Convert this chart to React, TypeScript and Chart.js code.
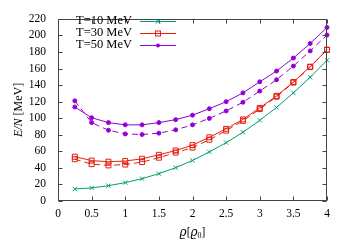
import React, { useEffect, useRef } from "react";
import { Chart, registerables } from "chart.js";

Chart.register(...registerables);

// ---- data ----
const densities = [0.25, 0.5, 0.75, 1.0, 1.25, 1.5, 1.75, 2.0, 2.25, 2.5, 2.75, 3.0, 3.25, 3.5, 3.75, 4.0];
const t10 = [14.5, 15.8, 18.5, 22.2, 27, 33, 40.3, 49, 59.3, 70.5, 83, 97.5, 113, 130.6, 149.5, 170];
const t30Solid = [53.5, 48.8, 47.5, 48.3, 51, 55.8, 61, 67.5, 77, 87.2, 98.6, 112.5, 127, 143.8, 162.3, 182.8];
const t30Dashed = [50.5, 44.5, 43, 44, 47, 52.3, 58.5, 64.5, 74, 85, 96.8, 111, 126, 143, 161.8, 182.5];
const t50Solid = [113.5, 100.6, 94.7, 92, 92, 94.7, 98.3, 103.7, 111.5, 120, 130.6, 144, 157, 172.7, 190.3, 209.7];
const t50Dashed = [121, 94.7, 85.5, 81, 80.3, 82, 86, 92, 99.8, 108.8, 119.3, 132.8, 146.5, 163, 181.3, 200.5];
const legendLabels = ["T=10 MeV", "T=30 MeV", "T=50 MeV"];
const xRange = [0, 4];
const yRange = [0, 220];
const xStep = 0.5;
const yStep = 20;

const GREEN = "#009e73";
const RED = "#e51e10";
const PURPLE = "#9400d3";
const SERIF = "'Liberation Serif', 'DejaVu Serif', serif";

const pts = (ys: number[]) => densities.map((x, i) => ({ x, y: ys[i] }));

function drawMarker(ctx: CanvasRenderingContext2D, style: string, x: number, y: number, color: string) {
  ctx.save();
  ctx.strokeStyle = color;
  ctx.fillStyle = color;
  ctx.lineWidth = 1;
  if (style === "crossRot") {
    const r = 2.2;
    ctx.beginPath();
    ctx.moveTo(x - r, y - r); ctx.lineTo(x + r, y + r);
    ctx.moveTo(x - r, y + r); ctx.lineTo(x + r, y - r);
    ctx.stroke();
  } else if (style === "rect") {
    ctx.strokeRect(x - 2.5, y - 2.5, 5, 5);
  } else {
    ctx.beginPath();
    ctx.arc(x, y, 2, 0, Math.PI * 2);
    ctx.fill();
  }
  ctx.restore();
}

const framePlugin = {
  id: "gnuFrame",
  afterDraw(chart: any) {
    const { ctx, chartArea } = chart;
    const { left, right, top, bottom } = chartArea;
    const xs = chart.scales.x;
    const ys = chart.scales.y;
    ctx.save();
    ctx.strokeStyle = "#444";
    ctx.lineWidth = 1;
    const L = Math.round(left) + 0.5, R = Math.round(right) - 0.5;
    const T = Math.round(top) + 0.5, B = Math.round(bottom) - 0.5;
    ctx.strokeRect(L, T, R - L, B - T);
    ctx.beginPath();
    const tl = 4;
    xs.ticks.forEach((t: any) => {
      const px = Math.round(xs.getPixelForValue(t.value)) + 0.5;
      ctx.moveTo(px, B); ctx.lineTo(px, B - tl);
      ctx.moveTo(px, T); ctx.lineTo(px, T + tl);
    });
    ys.ticks.forEach((t: any) => {
      const py = Math.round(ys.getPixelForValue(t.value)) + 0.5;
      ctx.moveTo(L, py); ctx.lineTo(L + tl, py);
      ctx.moveTo(R, py); ctx.lineTo(R - tl, py);
    });
    ctx.stroke();

    // axis titles
    ctx.fillStyle = "#000";
    ctx.textBaseline = "middle";
    const cx = (left + right) / 2;
    const ty = 233;
    const parts: [string, string][] = [
      ["ϱ", "italic 12px 'DejaVu Serif', serif"],
      ["[", `11.5px ${SERIF}`],
      ["ϱ", "italic 12px 'DejaVu Serif', serif"],
      ["0", `8px ${SERIF}`],
      ["]", `11.5px ${SERIF}`],
    ];
    let total = 0;
    parts.forEach(([s, f]) => { ctx.font = f; total += ctx.measureText(s).width; });
    let x0 = cx - total / 2;
    ctx.textAlign = "left";
    parts.forEach(([s, f], i) => {
      ctx.font = f;
      ctx.fillText(s, x0, i === 3 ? ty + 3 : ty);
      x0 += ctx.measureText(s).width;
    });

    ctx.save();
    ctx.translate(19, (top + bottom) / 2);
    ctx.rotate(-Math.PI / 2);
    const yparts: [string, string][] = [
      ["E/N", `italic 12px ${SERIF}`],
      [" [MeV]", `12px ${SERIF}`],
    ];
    let ytot = 0;
    yparts.forEach(([s, f]) => { ctx.font = f; ytot += ctx.measureText(s).width; });
    let yx = -ytot / 2;
    yparts.forEach(([s, f]) => {
      ctx.font = f;
      ctx.fillText(s, yx, 0);
      yx += ctx.measureText(s).width;
    });
    ctx.restore();

    // legend
    const rows = [
      { label: legendLabels[0], color: GREEN, style: "crossRot" },
      { label: legendLabels[1], color: RED, style: "rect" },
      { label: legendLabels[2], color: PURPLE, style: "circle" },
    ];
    ctx.font = `12.5px ${SERIF}`;
    ctx.textAlign = "right";
    rows.forEach((r, i) => {
      const y = 20.5 + i * 12;
      ctx.fillStyle = "#000";
      ctx.fillText(r.label, 132, y);
      ctx.strokeStyle = r.color;
      ctx.lineWidth = 1;
      ctx.beginPath();
      ctx.moveTo(140, Math.round(y) + 0.5);
      ctx.lineTo(176, Math.round(y) + 0.5);
      ctx.stroke();
      drawMarker(ctx, r.style, 158, Math.round(y) + 0.5, r.color);
    });
    ctx.restore();
  },
};

export default function App() {
  const ref = useRef<HTMLCanvasElement>(null);
  useEffect(() => {
    document.body.style.margin = "0";
    const canvas = ref.current!;
    const mk = (data: number[], color: string, style: string, dashed: boolean, radius: number, fill: boolean) => ({
      data: pts(data),
      borderColor: color,
      backgroundColor: fill ? color : "rgba(0,0,0,0)",
      borderWidth: 1,
      borderDash: dashed ? [6, 4] : [],
      pointStyle: style,
      pointRadius: radius,
      pointBorderWidth: 1,
      pointBorderColor: color,
      pointBackgroundColor: fill ? color : "rgba(0,0,0,0)",
      tension: 0,
      fill: false,
      clip: false,
    });
    const chart = new Chart(canvas, {
      type: "line",
      data: {
        datasets: [
          mk(t10, GREEN, "crossRot", false, 3, false),
          mk(t30Solid, RED, "rect", false, 3.5, false),
          mk(t30Dashed, RED, "rect", true, 3.5, false),
          mk(t50Solid, PURPLE, "circle", false, 2, true),
          mk(t50Dashed, PURPLE, "circle", true, 2, true),
        ] as any,
      },
      options: {
        responsive: false,
        animation: false,
        devicePixelRatio: 1,
        layout: { padding: { left: 0, right: 23, top: 13, bottom: 0 } },
        plugins: { legend: { display: false }, tooltip: { enabled: false } },
        scales: {
          x: {
            type: "linear",
            min: xRange[0],
            max: xRange[1],
            ticks: {
              stepSize: xStep,
              padding: 6,
              color: "#000",
              font: { family: SERIF, size: 11.5 },
              maxRotation: 0,
              autoSkip: false,
              callback: (v: any) => String(Number(v)),
            },
            grid: { display: false, drawTicks: false },
            border: { display: false },
            afterFit: (s: any) => { s.height = 44; },
          },
          y: {
            type: "linear",
            min: yRange[0],
            max: yRange[1],
            ticks: {
              stepSize: yStep,
              padding: 12,
              color: "#000",
              autoSkip: false,
              font: { family: SERIF, size: 11.5 },
              callback: (v: any) => String(Number(v)),
            },
            grid: { display: false, drawTicks: false },
            border: { display: false },
            afterFit: (s: any) => { s.width = 58; },
          },
        },
      } as any,
      plugins: [framePlugin],
    });
    return () => chart.destroy();
  }, []);
  return (
    <div style={{ width: 350, height: 245 }}>
      <canvas ref={ref} width={350} height={245} style={{ display: "block" }} />
    </div>
  );
}
